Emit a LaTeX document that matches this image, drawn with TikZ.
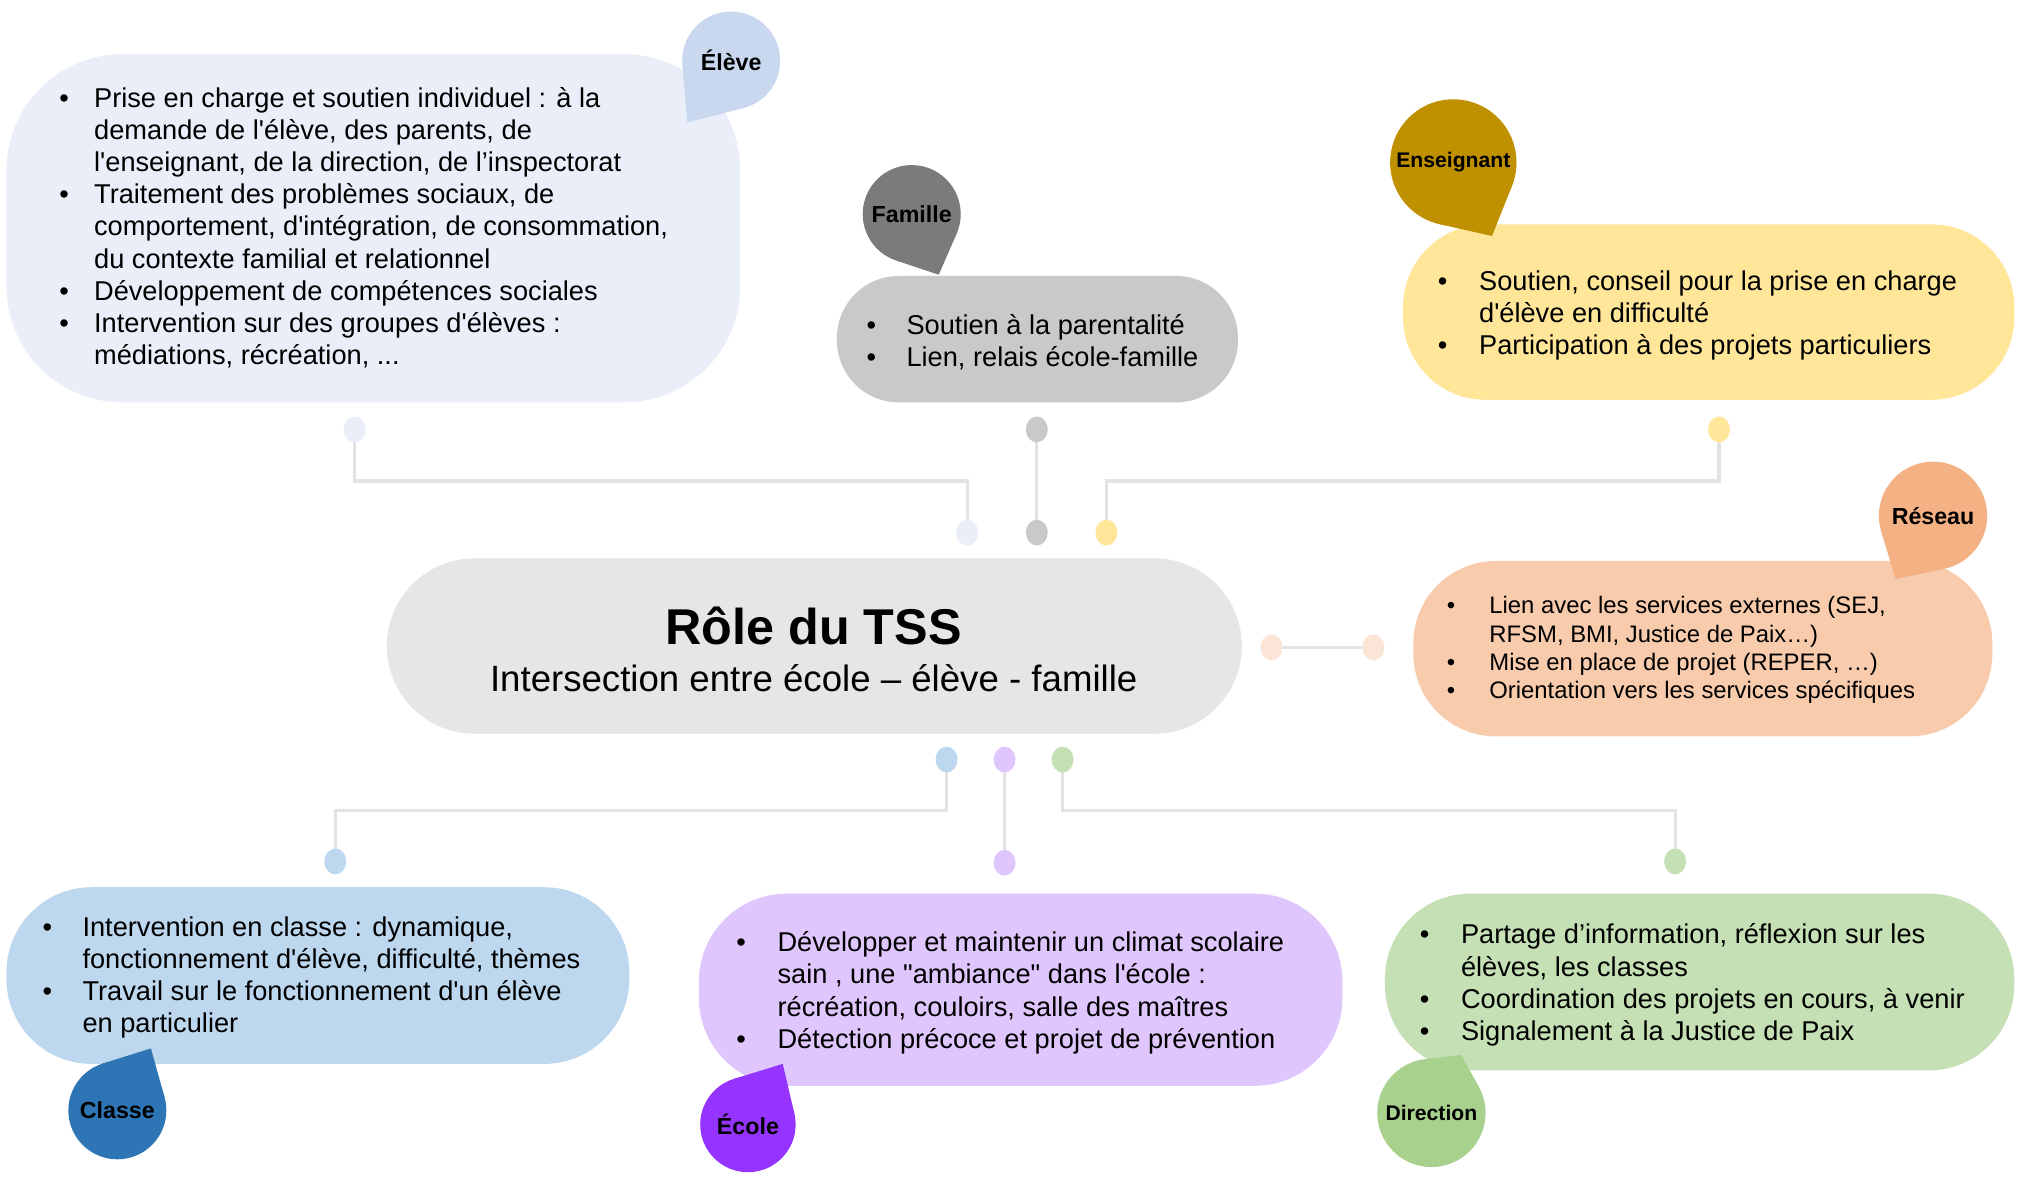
\documentclass[tikz,border=0pt]{standalone}
\usepackage{fontspec}
\setmainfont{Liberation Sans}[Ligatures=TeXOff]
\usetikzlibrary{calc,backgrounds,shapes.geometric}
\definecolor{eleveBox}{HTML}{E9EEF8}
\definecolor{eleveLab}{HTML}{C9D8EF}
\definecolor{famBox}{HTML}{C9C9C9}
\definecolor{famLab}{HTML}{7B7B7B}
\definecolor{ensBox}{HTML}{FFE699}
\definecolor{ensLab}{HTML}{BF9000}
\definecolor{centBox}{HTML}{E6E6E6}
\definecolor{resBox}{HTML}{F8CBAD}
\definecolor{resLab}{HTML}{F4B183}
\definecolor{resDot}{HTML}{FBE5D6}
\definecolor{claBox}{HTML}{BDD7EE}
\definecolor{claLab}{HTML}{2E75B6}
\definecolor{ecoBox}{HTML}{DFC6FC}
\definecolor{ecoLab}{HTML}{9534FE}
\definecolor{dirBox}{HTML}{C5E0B4}
\definecolor{dirLab}{HTML}{A9D18E}
\definecolor{lineC}{HTML}{E3E3E3}
\newcommand\bu[1]{\makebox[#1][l]{\textbullet}}
\newcommand\tdrop[7]{%
  \node[lab,fill=#2,minimum size=#4] (#1) at (#3) {};
  \coordinate (#1tip) at (#5);
  \fill[#2] (#1tip) -- (tangent cs:node=#1,point={(#1tip)},solution=1)
     -- (tangent cs:node=#1,point={(#1tip)},solution=2) -- cycle;
  \node[font=\bfseries\fontsize{#6}{#6}\selectfont,inner sep=0] (#1txt) at (#1) {#7};}
\begin{document}
\begin{tikzpicture}[x=0.5pt,y=-0.5pt,
  box/.style={rectangle,inner sep=0,outer sep=0},
  lab/.style={circle,inner sep=0,outer sep=0},
  body/.style={anchor=base west,inner sep=0,outer sep=0,font=\fontsize{10.55}{12.5}\selectfont},
  smallbody/.style={anchor=base west,inner sep=0,outer sep=0,font=\fontsize{9.25}{11}\selectfont},
  dot/.style={ellipse,inner sep=0,outer sep=0,minimum width=8.5pt,minimum height=10pt},
  conn/.style={draw=lineC,line width=1.25pt}]
\useasboundingbox (0,0) rectangle (1568,912);

% ---------- boxes ----------
\node[box,fill=eleveBox,minimum width=284.5pt,minimum height=135pt,rounded corners=45pt] (bEleve) at (289.5,177) {};
\node[box,fill=famBox,minimum width=155.5pt,minimum height=49pt,rounded corners=24pt] (bFam) at (804.5,263) {};
\node[box,fill=ensBox,minimum width=237pt,minimum height=68pt,rounded corners=32pt] (bEns) at (1325,242) {};
\node[box,fill=centBox,minimum width=331.5pt,minimum height=68pt,rounded corners=34pt] (bCent) at (631.5,501) {};
\node[box,fill=resBox,minimum width=224.5pt,minimum height=68pt,rounded corners=32pt] (bRes) at (1320.5,503) {};
\node[box,fill=claBox,minimum width=241.5pt,minimum height=68.5pt,rounded corners=33pt] (bCla) at (246.5,756.5) {};
\node[box,fill=ecoBox,minimum width=249.5pt,minimum height=74.5pt,rounded corners=34pt] (bEco) at (791.5,767.5) {};
\node[box,fill=dirBox,minimum width=244pt,minimum height=68.5pt,rounded corners=33pt] (bDir) at (1318,761.5) {};

% ---------- texts ----------
\node[body] (tEleve) at (46,83) {\begin{tabular}[t]{@{}l@{}l@{}}
\bu{13.5pt}&Prise en charge et soutien individuel : à la\\
&demande de l'élève, des parents, de\\
&l'enseignant, de la direction, de l’inspectorat\\
\bu{13.5pt}&Traitement des problèmes sociaux, de\\
&comportement, d'intégration, de consommation,\\
&du contexte familial et relationnel\\
\bu{13.5pt}&Développement de compétences sociales\\
\bu{13.5pt}&Intervention sur des groupes d'élèves :\\
&médiations, récréation, ...
\end{tabular}};
\node[body] (tFam) at (672,259) {\begin{tabular}[t]{@{}l@{}l@{}}
\bu{15.5pt}&Soutien à la parentalité\\
\bu{15.5pt}&Lien, relais école-famille
\end{tabular}};
\node[body] (tEns) at (1115,225) {\begin{tabular}[t]{@{}l@{}l@{}}
\bu{16pt}&Soutien, conseil pour la prise en charge\\
&d'élève en difficulté\\
\bu{16pt}&Participation à des projets particuliers
\end{tabular}};
\node[smallbody] (tRes) at (1122,476) {\begin{tabular}[t]{@{}l@{}l@{}}
\bu{16.5pt}&Lien avec les services externes (SEJ,\\
&RFSM, BMI, Justice de Paix…)\\
\bu{16.5pt}&Mise en place de projet (REPER, …)\\
\bu{16.5pt}&Orientation vers les services spécifiques
\end{tabular}};
\node[body] (tCla) at (33,726) {\begin{tabular}[t]{@{}l@{}l@{}}
\bu{15.5pt}&Intervention en classe : dynamique,\\
&fonctionnement d'élève, difficulté, thèmes\\
\bu{15.5pt}&Travail sur le fonctionnement d'un élève\\
&en particulier
\end{tabular}};
\node[body] (tEco) at (571,738) {\begin{tabular}[t]{@{}l@{}l@{}}
\bu{16pt}&Développer et maintenir un climat scolaire\\
&sain , une "ambiance" dans l'école :\\
&récréation, couloirs, salle des maîtres\\
\bu{16pt}&Détection précoce et projet de prévention
\end{tabular}};
\node[body] (tDir) at (1101,732) {\begin{tabular}[t]{@{}l@{}l@{}}
\bu{16pt}&Partage d’information, réflexion sur les\\
&élèves, les classes\\
\bu{16pt}&Coordination des projets en cours, à venir\\
\bu{16pt}&Signalement à la Justice de Paix
\end{tabular}};
\node[anchor=base,inner sep=0,font=\bfseries\fontsize{19.5}{22}\selectfont] (title) at (631,500) {Rôle du TSS};
\node[anchor=base,inner sep=0,font=\fontsize{14.2}{16}\selectfont] (subtitle) at (631,536) {Intersection entre école – élève - famille};

% ---------- labels ----------
\tdrop{lEleve}{eleveLab}{567,47}{38pt}{533,95}{9}{Élève}
\tdrop{lFam}{famLab}{707,166}{38pt}{728,213}{9}{Famille}
\tdrop{lEns}{ensLab}{1127,126}{49pt}{1157,183}{8.2}{Enseignant}
\tdrop{lRes}{resLab}{1499,400}{42pt}{1470,449}{9}{Réseau}
\tdrop{lCla}{claLab}{91,861}{38pt}{117,813}{9}{Classe}
\tdrop{lEco}{ecoLab}{580,872}{37pt}{607,825}{9}{École}
\tdrop{lDir}{dirLab}{1110,863}{42pt}{1133,818}{8.2}{Direction}

% ---------- dots ----------
\node[dot,fill=eleveBox] (dE1) at (275,333) {};
\node[dot,fill=eleveBox] (dE2) at (750,413) {};
\node[dot,fill=famBox] (dF1) at (804,333) {};
\node[dot,fill=famBox] (dF2) at (804,413) {};
\node[dot,fill=ensBox] (dN1) at (1333,333) {};
\node[dot,fill=ensBox] (dN2) at (858,413) {};
\node[dot,fill=resDot] (dR1) at (986,502) {};
\node[dot,fill=resDot] (dR2) at (1065,502) {};
\node[dot,fill=claBox] (dC1) at (734,589) {};
\node[dot,fill=claBox] (dC2) at (260,668) {};
\node[dot,fill=ecoBox] (dS1) at (779,589) {};
\node[dot,fill=ecoBox] (dS2) at (779,669) {};
\node[dot,fill=dirBox] (dD1) at (824,589) {};
\node[dot,fill=dirBox] (dD2) at (1299,668) {};

% ---------- connectors ----------
\begin{pgfonlayer}{background}
\fill[white] (0,0) rectangle (1568,912);
\draw[conn] (dE1.center) |- ($(dE1.center)!0.5!(dE2.center)$) -| (dE2.center);
\draw[conn] (dF1.center) -- (dF2.center);
\draw[conn] (dN1.center) |- ($(dN1.center)!0.5!(dN2.center)$) -| (dN2.center);
\draw[conn] (dR1.center) -- (dR2.center);
\draw[conn] (dC1.center) |- ($(dC1.center)!0.5!(dC2.center)$) -| (dC2.center);
\draw[conn] (dS1.center) -- (dS2.center);
\draw[conn] (dD1.center) |- ($(dD1.center)!0.5!(dD2.center)$) -| (dD2.center);
\end{pgfonlayer}
\end{tikzpicture}
\end{document}
